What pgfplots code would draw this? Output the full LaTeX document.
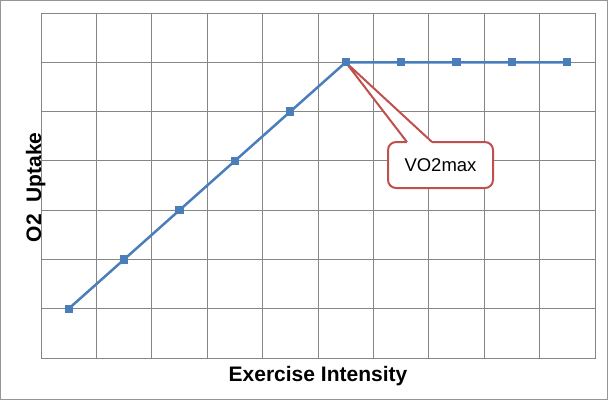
\documentclass[border=0pt]{standalone}
\usepackage{fontspec}
\setmainfont{Liberation Sans}
\usepackage{pgfplots}
\pgfplotsset{compat=1.18}
\definecolor{LineBlue}{RGB}{74,126,187}
\definecolor{GridGray}{RGB}{134,134,134}
\definecolor{CalloutRed}{RGB}{192,80,77}
\definecolor{FrameGray}{RGB}{150,150,150}

\begin{document}
\begin{tikzpicture}[x=1pt,y=1pt]
  % outer frame, one pt per reference pixel
  \draw[FrameGray, line width=1pt] (0.5,0.5) rectangle (607.5,399.5);
  \useasboundingbox (0,0) rectangle (608,400);
  \begin{axis}[
    at={(41pt,42pt)}, anchor=south west,
    scale only axis,
    width=554pt, height=345pt,
    xmin=0.5, xmax=10.5,
    ymin=0, ymax=7,
    xtick={0.5,1.5,...,10.5},
    ytick={0,1,...,7},
    xticklabels={}, yticklabels={},
    major tick length=0pt,
    grid=major,
    grid style={GridGray, line width=1pt},
    axis line style={GridGray, line width=1pt},
    xlabel={\bfseries Exercise Intensity},
    ylabel={\bfseries O2\ \ Uptake},
    label style={font=\fontsize{21}{25}\selectfont},
    xlabel style={at={(axis description cs:0.5,0)}, anchor=base, yshift=-23pt},
    ylabel style={at={(axis description cs:0,0.515)}, rotate=0, anchor=base, xshift=-7pt},
    clip=false,
  ]
    \addplot[LineBlue, line width=2.5pt, mark=square*, mark size=3.6pt,
      mark options={fill=LineBlue, draw=LineBlue, line width=0pt}]
      coordinates {(1,1) (2,2) (3,3) (4,4) (5,5) (6,6) (7,6) (8,6) (9,6) (10,6)};

    % callout
    \draw[CalloutRed, line width=2pt, fill=white, rounded corners=8pt]
      (axis cs:6.764,3.449) rectangle (axis cs:8.659,4.382);
    \fill[white] (axis cs:7.106,4.40) -- (axis cs:6,6) -- (axis cs:7.558,4.40) -- cycle;
    \fill[white] (axis cs:7.106,4.35) rectangle (axis cs:7.558,4.42);
    \draw[CalloutRed, line width=2pt, line join=miter]
      (axis cs:7.106,4.382) -- (axis cs:6,6) -- (axis cs:7.558,4.382);
    \node[font=\fontsize{18.5}{22}\selectfont] at (axis cs:7.711,3.915) {VO2max};
  \end{axis}
\end{tikzpicture}
\end{document}
